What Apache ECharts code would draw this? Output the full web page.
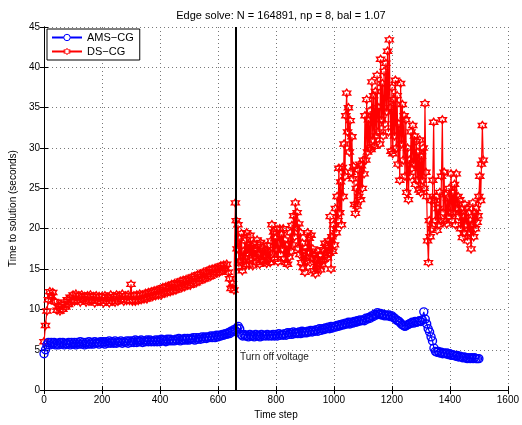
<!DOCTYPE html>
<html>
<head>
<meta charset="utf-8">
<script src="https://cdn.jsdelivr.net/npm/echarts@6/dist/echarts.min.js"></script>
<style>
  html, body { margin: 0; padding: 0; background: #fff; }
  #chart { width: 522px; height: 425px; }
</style>
</head>
<body>
<div id="chart"></div>
<script>
// x ticks / y ticks
var xTicks = [0, 200, 400, 600, 800, 1000, 1200, 1400, 1600];
var yTicks = [0, 5, 10, 15, 20, 25, 30, 35, 40, 45];

var voltageOffStep = 660;

// AMS-CG, one value every 5 time steps (0 .. 1500)
var amsStep = 5;
var amsTimes = [
  4.5, 5.0, 5.6, 5.9, 5.6, 5.9, 5.7, 5.9, 5.6, 5.8, 5.6, 5.9, 5.7, 5.9, 5.6, 5.8, 5.7, 5.9, 5.6, 5.9,
  5.7, 5.9, 5.6, 5.9, 5.7, 6.0, 5.7, 5.9, 5.6, 5.9, 5.7, 6.0, 5.7, 5.9, 5.7, 6.0, 5.8, 5.9, 5.7, 6.0,
  5.8, 6.0, 5.7, 6.0, 5.8, 6.1, 5.8, 6.0, 5.8, 6.1, 5.8, 6.0, 5.9, 6.1, 5.8, 6.0, 5.9, 6.1, 5.8, 6.1,
  5.9, 6.1, 5.9, 6.2, 5.9, 6.1, 6.0, 6.2, 5.9, 6.1, 6.0, 6.2, 6.0, 6.2, 6.0, 6.1, 6.0, 6.2, 6.0, 6.2,
  6.0, 6.3, 6.1, 6.2, 6.0, 6.3, 6.1, 6.3, 6.1, 6.2, 6.1, 6.3, 6.2, 6.4, 6.1, 6.3, 6.2, 6.4, 6.2, 6.4,
  6.2, 6.4, 6.3, 6.5, 6.2, 6.5, 6.3, 6.5, 6.3, 6.6, 6.4, 6.6, 6.4, 6.6, 6.5, 6.7, 6.5, 6.7, 6.5, 6.8,
  6.6, 6.8, 6.7, 6.9, 6.8, 7.0, 6.9, 7.1, 7.0, 7.3, 7.2, 7.5, 7.4, 7.7, 7.9, 7.6, 6.9, 6.7, 6.9, 6.7,
  6.8, 6.6, 6.9, 6.7, 6.8, 6.6, 6.9, 6.7, 6.8, 6.6, 6.9, 6.7, 6.8, 6.7, 6.9, 6.7, 6.8, 6.7, 6.9, 6.7,
  6.9, 6.7, 7.0, 6.8, 6.9, 6.8, 7.0, 6.8, 7.1, 6.9, 7.1, 6.9, 7.2, 7.0, 7.1, 7.0, 7.2, 7.0, 7.3, 7.1,
  7.2, 7.1, 7.3, 7.2, 7.4, 7.2, 7.4, 7.3, 7.5, 7.3, 7.6, 7.4, 7.6, 7.5, 7.7, 7.6, 7.8, 7.6, 7.9, 7.7,
  7.9, 7.8, 8.0, 7.9, 8.1, 8.0, 8.2, 8.1, 8.3, 8.2, 8.4, 8.2, 8.4, 8.3, 8.5, 8.4, 8.6, 8.5, 8.7, 8.6,
  8.7, 8.6, 8.9, 8.8, 9.0, 8.9, 9.2, 9.1, 9.4, 9.3, 9.6, 9.4, 9.5, 9.3, 9.4, 9.2, 9.3, 9.2, 9.3, 9.1,
  9.2, 9.0, 8.9, 8.7, 8.6, 8.5, 8.3, 8.1, 8.0, 7.9, 8.0, 8.1, 8.2, 8.3, 8.4, 8.3, 8.5, 8.4, 8.5, 8.6,
  8.5, 8.7, 9.7, 8.8, 8.2, 7.6, 7.2, 6.6, 6.1, 5.2, 4.8, 4.7, 4.8, 4.6, 4.7, 4.5, 4.6, 4.5, 4.6, 4.4,
  4.5, 4.3, 4.4, 4.3, 4.2, 4.3, 4.1, 4.2, 4.1, 4.0, 4.1, 4.0, 3.9, 4.0, 3.9, 4.0, 3.9, 4.0, 3.9, 3.9,
  3.9
];

// DS-CG before the voltage is turned off, every 5 steps (0 .. 655)
var dsEarlyStep = 5;
var dsEarlyTimes = [
  6.0, 8.0, 9.8, 11.2, 12.2, 11.6, 12.1, 11.0, 10.9, 9.9, 10.3, 9.8, 10.6, 10.0, 10.9, 10.3, 11.2, 10.6, 11.5, 10.9,
  11.8, 11.0, 11.9, 11.1, 11.7, 10.9, 11.8, 11.2, 11.6, 10.9, 11.7, 11.0, 11.8, 11.1, 11.6, 10.8, 11.7, 11.0, 11.6, 11.0,
  11.6, 10.8, 11.7, 11.0, 11.5, 10.8, 11.8, 11.0, 11.6, 10.9, 11.8, 11.0, 11.7, 11.2, 11.9, 11.0, 11.7, 11.1, 11.8, 11.1,
  13.1, 11.0, 11.7, 11.0, 11.8, 11.1, 11.9, 11.2, 11.8, 11.3, 12.0, 11.3, 12.1, 11.5, 12.2, 11.6, 12.3, 11.7, 12.4, 11.8,
  12.5, 11.8, 12.7, 12.0, 12.8, 12.1, 12.9, 12.2, 13.1, 12.3, 13.2, 12.4, 13.3, 12.6, 13.5, 12.7, 13.6, 12.8, 13.7, 13.0,
  13.8, 13.0, 14.0, 13.2, 14.1, 13.3, 14.3, 13.5, 14.4, 13.7, 14.6, 13.8, 14.7, 14.0, 14.9, 14.1, 15.0, 14.3, 15.1, 14.5,
  15.2, 14.6, 15.4, 14.8, 15.5, 15.0, 15.6, 14.6, 13.8, 12.6, 13.2, 12.4
];

// DS-CG from the voltage switch on, every 3 steps (660 .. 1515)
var dsLateStart = 660;
var dsLateStep = 3;
var dsLateTimes = [
  23.2, 21.0, 17.5, 20.5, 15.2, 18.8, 16.0, 19.4, 14.8, 17.2, 16.0, 18.5, 15.6, 19.5, 17.0, 18.0, 15.5, 19.2, 16.4, 17.8,
  15.4, 18.2, 16.6, 17.4, 15.8, 18.6, 16.8, 17.0, 15.6, 18.3, 16.1, 17.6, 15.9, 18.0, 16.5, 17.3, 15.7, 17.9, 16.2, 17.1,
  15.8, 18.5, 20.5, 17.0, 19.6, 16.2, 18.8, 17.4, 19.9, 15.9, 18.2, 20.0, 16.8, 19.3, 17.5, 20.0, 16.3, 18.6, 15.8, 17.9,
  15.6, 18.1, 16.5, 19.5, 17.2, 20.4, 18.0, 21.6, 19.0, 23.2, 20.2, 22.0, 17.6, 20.6, 16.8, 19.5, 15.8, 18.2, 15.2, 17.0,
  14.6, 17.6, 16.0, 19.5, 17.2, 18.8, 15.8, 19.2, 16.4, 17.5, 14.8, 16.8, 14.4, 16.2, 15.0, 17.2, 15.4, 16.6, 14.9, 16.0,
  15.6, 17.4, 16.2, 18.2, 16.8, 17.8, 16.4, 18.5, 17.0, 21.5, 15.0, 19.0, 17.2, 20.5, 18.0, 22.5, 19.5, 24.0, 21.0, 27.5,
  22.0, 25.8, 20.5, 27.6, 24.0, 30.5, 26.5, 34.0, 36.8, 32.0, 35.0, 29.5, 33.4, 27.0, 31.4, 26.2, 27.7, 23.0, 21.9, 25.0,
  22.8, 27.3, 24.0, 28.0, 23.6, 27.8, 25.0, 28.5, 26.8, 34.0, 28.5, 36.0, 29.5, 33.5, 30.0, 34.6, 29.8, 38.2, 31.0, 36.5,
  30.2, 37.0, 31.5, 39.0, 32.0, 35.0, 30.5, 41.0, 33.5, 38.0, 31.5, 39.5, 33.0, 40.5, 34.5, 42.0, 32.0, 43.4, 35.0, 29.6,
  37.5, 29.3, 36.0, 31.5, 38.4, 30.0, 36.5, 28.0, 33.0, 26.0, 38.0, 30.5, 35.4, 28.5, 34.0, 26.5, 33.5, 24.5, 30.0, 23.6,
  28.5, 26.5, 32.0, 27.5, 32.8, 28.0, 31.5, 25.5, 30.8, 26.0, 29.5, 24.8, 31.0, 24.5, 29.0, 26.0, 30.0, 25.0, 35.5, 27.0,
  24.0, 18.5, 15.8, 21.0, 19.0, 23.5, 20.0, 26.0, 33.2, 23.5, 21.0, 24.0, 19.8, 22.5, 20.5, 24.5, 21.0, 26.5, 33.5, 22.0,
  27.0, 21.0, 24.2, 20.6, 23.8, 21.5, 25.0, 22.0, 26.8, 21.0, 24.5, 22.0, 25.5, 20.5, 26.8, 22.5, 24.0, 21.5, 23.6, 20.0,
  22.5, 18.9, 21.5, 19.5, 23.0, 20.5, 22.5, 18.5, 22.0, 19.5, 21.0, 17.5, 20.5, 23.2, 19.0, 22.0, 20.0, 22.5, 20.8, 21.6,
  24.0, 26.5, 23.5, 28.0, 32.8, 28.5
];

function toPairs(values, start, step) {
  var out = [];
  for (var i = 0; i < values.length; i++) {
    out.push([start + i * step, values[i]]);
  }
  return out;
}

var amsData = toPairs(amsTimes, 0, amsStep);
var dsData = toPairs(dsEarlyTimes, 0, dsEarlyStep).concat(toPairs(dsLateTimes, dsLateStart, dsLateStep));

// six-pointed star (MATLAB 'h' marker)
var hexagram = 'path://M10 0 L12.887 5 L18.66 5 L15.77 10 L18.66 15 L12.887 15 L10 20 L7.113 15 L1.34 15 L4.23 10 L1.34 5 L7.113 5 Z';

var FONT = '"Liberation Sans", Arial, sans-serif';

var chart = echarts.init(document.getElementById('chart'));

var axisCommon = {
  axisLine: { show: true, lineStyle: { color: '#000', width: 1 } },
  axisTick: { show: true, inside: true, length: 4, lineStyle: { color: '#000' } },
  axisLabel: { color: '#000', fontSize: 10, fontFamily: FONT }
};

var plainNumber = function (v) { return String(v); };

chart.setOption({
  animation: false,
  backgroundColor: '#fff',
  title: {
    text: 'Edge solve: N = 164891, np = 8, bal = 1.07',
    left: 276,
    textAlign: 'center',
    top: 5,
    textStyle: { fontSize: 11, fontWeight: 'normal', color: '#000', fontFamily: FONT }
  },
  legend: {
    orient: 'vertical',
    left: 47,
    top: 29,
    padding: [3, 6, 3, 4],
    itemGap: 3,
    itemWidth: 30,
    itemHeight: 8,
    backgroundColor: '#fff',
    borderColor: '#000',
    borderWidth: 1,
    borderRadius: 0,
    textStyle: { fontSize: 11, color: '#000', fontFamily: FONT },
    data: [
      { name: 'AMS\u2212CG', itemStyle: { color: '#fff', borderColor: '#0000ff', borderWidth: 1 } },
      { name: 'DS\u2212CG', itemStyle: { color: '#fff', borderColor: '#ff0000', borderWidth: 1 } }
    ]
  },
  grid: { left: 42, right: 12, top: 27, bottom: 29, containLabel: false },
  xAxis: [
    Object.assign({}, axisCommon, {
      type: 'value',
      min: xTicks[0],
      max: xTicks[xTicks.length - 1],
      interval: 200,
      name: 'Time step',
      nameLocation: 'middle',
      nameGap: 17,
      nameTextStyle: { fontSize: 10, color: '#000', fontFamily: FONT },
      axisLabel: { color: '#000', fontSize: 10, fontFamily: FONT, margin: 5, formatter: plainNumber },
      splitLine: { show: true, lineStyle: { color: '#777', type: [1, 3], width: 1 } }
    }),
    Object.assign({}, axisCommon, {
      type: 'value',
      position: 'top',
      min: xTicks[0],
      max: xTicks[xTicks.length - 1],
      interval: 200,
      axisLabel: { show: false },
      splitLine: { show: false }
    })
  ],
  yAxis: [
    Object.assign({}, axisCommon, {
      type: 'value',
      min: yTicks[0],
      max: yTicks[yTicks.length - 1],
      interval: 5,
      name: 'Time to solution (seconds)',
      nameLocation: 'middle',
      nameGap: 22,
      nameTextStyle: { fontSize: 10, color: '#000', fontFamily: FONT },
      axisLabel: { color: '#000', fontSize: 10, fontFamily: FONT, margin: 4, formatter: plainNumber },
      splitLine: { show: true, lineStyle: { color: '#777', type: [1, 3], width: 1 } }
    }),
    Object.assign({}, axisCommon, {
      type: 'value',
      position: 'right',
      min: yTicks[0],
      max: yTicks[yTicks.length - 1],
      interval: 5,
      axisLabel: { show: false },
      splitLine: { show: false }
    })
  ],
  series: [
    {
      name: 'AMS\u2212CG',
      type: 'line',
      data: amsData,
      symbol: 'circle',
      symbolSize: 8,
      z: 3,
      lineStyle: { color: '#0000ff', width: 1.2 },
      itemStyle: { color: 'rgba(255,255,255,0)', borderColor: '#0000ff', borderWidth: 1.4 }
    },
    {
      name: 'DS\u2212CG',
      type: 'line',
      data: dsData,
      symbol: hexagram,
      symbolSize: 8,
      z: 2,
      lineStyle: { color: '#ff0000', width: 1.2 },
      itemStyle: { color: 'rgba(255,255,255,0)', borderColor: '#ff0000', borderWidth: 1.4 },
      markLine: {
        silent: true,
        symbol: 'none',
        label: { show: false },
        lineStyle: { color: '#000', width: 2, type: 'solid' },
        data: [{ xAxis: voltageOffStep }]
      }
    }
  ],
  graphic: [
    {
      type: 'text',
      left: 240,
      top: 352,
      style: { text: 'Turn off voltage', fontSize: 10, fill: '#222', fontFamily: FONT }
    }
  ]
});

window.onresize = function () {
  chart.resize();
};
</script>
</body>
</html>
